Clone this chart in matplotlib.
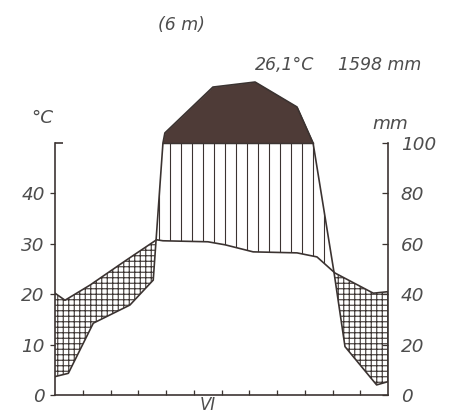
import numpy as np
import matplotlib
matplotlib.use("Agg")
import matplotlib.pyplot as plt

# temperature curve vertices (month position, deg C)
temp_x = [0.00, 0.36, 1.26, 2.58, 3.66, 3.89, 5.51, 6.13, 7.14, 8.72, 9.44, 10.09, 11.47, 12.00]
temp_c = [20.2, 18.8, 21.8, 26.8, 30.8, 30.6, 30.4, 29.8, 28.4, 28.2, 27.4, 24.2, 20.2, 20.5]

# precipitation curve vertices (month position, mm)
prec_x = [0.00, 0.48, 1.38, 2.70, 3.54, 3.89, 3.96, 5.69, 7.21, 8.72, 9.30, 10.05, 10.45, 11.59, 12.00]
prec_mm = [7.3, 8.6, 28.5, 35.7, 45.6, 100, 140, 322, 342, 243, 100, 49, 19.2, 4.0, 5.3]

left_ticks = [0, 10, 20, 30, 40]
right_ticks = [0, 20, 40, 60, 80, 100]
month_label = "VI"
station_height = "(6 m)"
mean_temp = "26,1°C"
annual_prec = "1598 mm"

line_col = "#3b3331"
dark_col = "#4e3b37"
text_col = "#4d4d4d"

dpi = 66
plt.rcParams["hatch.linewidth"] = 1.2
plt.rcParams["font.family"] = ["DejaVu Sans"]
plt.rcParams["font.style"] = "italic"


def scale_prec(mm):
    # Walter-Lieth: 20 mm = 10 C up to 100 mm, above that compressed 1:10
    mm = np.asarray(mm, dtype=float)
    s = np.where(mm <= 100, mm, 100 + (mm - 100) / 10.0)
    return s / 2.0


fig = plt.figure(figsize=(449 / dpi, 414 / dpi), dpi=dpi)
ax = fig.add_axes([55 / 449, 1 - 395 / 414, 333 / 449, (395 - 80) / 414])
ax.set_xlim(0, 12)
ax.set_ylim(0, 62.5)

p_s = scale_prec(prec_mm)

# fills on a common grid
gx = np.linspace(0, 12, 2401)
gt = np.interp(gx, temp_x, temp_c)
gp = np.interp(gx, prec_x, p_s)

ax.fill_between(gx, gp, gt, where=gt >= gp, interpolate=True, facecolor="white",
                edgecolor=line_col, hatch="++", linewidth=0)
ax.fill_between(gx, gt, np.minimum(gp, 50), where=gp >= gt, interpolate=True,
                facecolor="white", edgecolor=line_col, hatch="|", linewidth=0)
ax.fill_between(gx, 50, gp, where=gp >= 50, interpolate=True, facecolor=dark_col,
                edgecolor=dark_col, linewidth=0.8)

# 100 mm line under the dark area
wet = gx[gp >= 50]
ax.plot([wet.min(), wet.max()], [50, 50], color=line_col, lw=1.6)

ax.plot(temp_x, temp_c, color=line_col, lw=1.8, solid_joinstyle="round")
ax.plot(prec_x, p_s, color=line_col, lw=1.8, solid_joinstyle="round")

# axes
ax.spines["top"].set_visible(False)
for s in ["left", "right", "bottom"]:
    ax.spines[s].set_color(line_col)
    ax.spines[s].set_linewidth(1.8)
ax.spines["left"].set_bounds(0, 50)
ax.spines["right"].set_bounds(0, 50)

ax.set_xticks(range(1, 12))
ax.set_xticklabels([])
ax.set_xticks([5.5], minor=True)
ax.set_xticklabels([month_label], minor=True)
ax.tick_params(axis="x", which="major", direction="in", length=6, width=1.4, color=line_col)
ax.tick_params(axis="x", which="minor", length=0, pad=1, labelsize=18, labelcolor=text_col)

ax.set_yticks(left_ticks)
ax.set_yticklabels([str(v) for v in left_ticks])
ax.tick_params(axis="y", direction="out", length=6, width=1.4, color=line_col,
               labelsize=20, labelcolor=text_col, pad=5)
ax.plot([0, 0.3], [50, 50], color=line_col, lw=1.8, clip_on=False, solid_capstyle="butt")

ax2 = ax.twinx()
ax2.set_ylim(0, 125)
for s in ["top", "left", "bottom", "right"]:
    ax2.spines[s].set_visible(False)
ax2.set_yticks(right_ticks)
ax2.set_yticklabels([str(v) for v in right_ticks])
ax2.tick_params(axis="y", direction="in", length=7, width=1.4, color=line_col,
                labelsize=20, labelcolor=text_col, pad=14)

# labels
fig.text(42 / 449, 1 - 118 / 414, "°C", ha="center", va="center", fontsize=20, color=text_col)
fig.text(390 / 449, 1 - 124 / 414, "mm", ha="center", va="center", fontsize=20, color=text_col)
fig.text(181 / 449, 1 - 25 / 414, station_height, ha="center", va="center", fontsize=19, color=text_col)
fig.text(285 / 449, 1 - 65 / 414, mean_temp, ha="center", va="center", fontsize=19, color=text_col)
fig.text(380 / 449, 1 - 65 / 414, annual_prec, ha="center", va="center", fontsize=19, color=text_col)

fig.savefig("out.png", dpi=dpi, facecolor="white")
